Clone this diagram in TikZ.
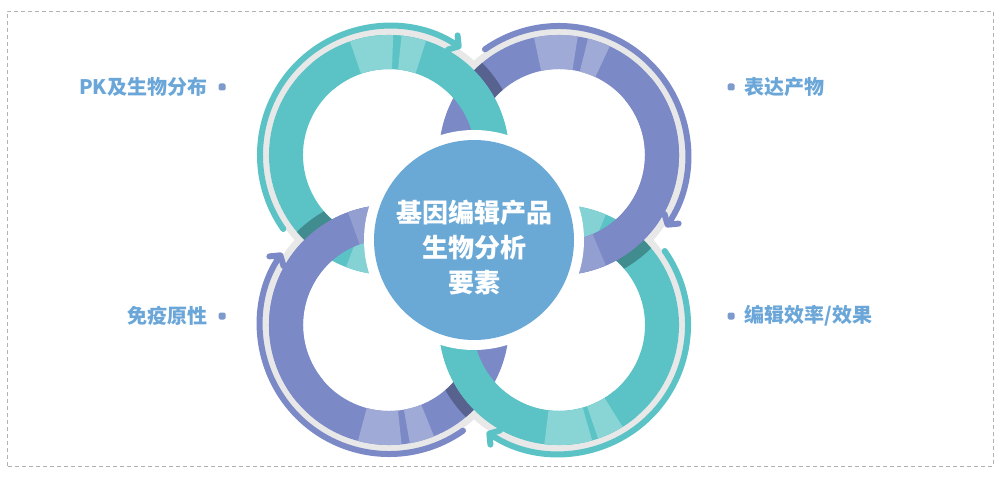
\documentclass[tikz,border=0pt]{standalone}
\usepackage{fontspec}
\newfontfamily\cjk{Noto Sans CJK SC}
\usetikzlibrary{positioning,arrows.meta}

\definecolor{ringteal}{HTML}{5BC3C5}
\definecolor{ringpurple}{HTML}{7B89C7}
\definecolor{hubblue}{HTML}{6AA9D6}
\definecolor{labelblue}{HTML}{6BA6D8}
\definecolor{dotblue}{HTML}{7C9ACB}

\newcommand\rin{86}
\newcommand\rout{120}
% piece of an annulus: start angle, end angle, inner radius, outer radius
\newcommand\bandpart[4]{(#1:#4) arc[start angle=#1,end angle=#2,radius=#4] -- (#2:#3) arc[start angle=#2,end angle=#1,radius=#3] -- cycle}

\tikzset{
  ringframe/.style={shift={(474,237)},rotate=90*#1,shift={(-85,85)}},
  cyclearrow/.style={line width=6pt,line cap=round,-{Straight Barb[length=7pt,width=17pt,round]}},
  lbl/.style={text=labelblue,inner sep=0pt,font=\cjk\bfseries\fontsize{20}{24}\selectfont},
  dot/.style={fill=dotblue,rounded corners=1.5pt,minimum size=7pt,inner sep=0pt},
  halo/.style={circle,fill=white,minimum size=220pt,inner sep=0pt},
  hub/.style={circle,fill=hubblue,minimum size=200pt,inner sep=0pt},
  hubtext/.style={text=white,align=center,font=\cjk\bfseries\fontsize{26}{35}\selectfont}
}

\begin{document}
\begin{tikzpicture}[x=1pt,y=1pt]
  \useasboundingbox (0,0) rectangle (1000,477);
  \draw[black!30,line width=0.8pt,dash pattern=on 4pt off 3pt] (7,11) rectangle (993,466);

  % soft shadow and arrows round the outside
  \foreach \k/\col in {0/ringteal,1/ringpurple,2/ringteal,3/ringpurple}{
    \begin{scope}[ringframe=\k]
      \fill[black!9] \bandpart{45}{225}{\rout}{127};
      \draw[\col,cyclearrow] (215:129) arc[start angle=215,end angle=56,radius=129];
    \end{scope}
  }

  % whole rings and tails first (tails pass under the neighbour)
  \foreach \k/\col/\sa/\sb/\sc/\sd/\ea/\eb in {0/ringteal/88/109/72/84/249/275,1/ringpurple/165/186/190/202/-10/20,2/ringteal/83/106/109/122/247/275,3/ringpurple/171/192/155/166/-10/23}{
    \begin{scope}[ringframe=\k]
      \fill[\col] \bandpart{-10}{290}{\rin}{\rout};
      \ifnum\sa>130
        \fill[\col!72!white] \bandpart{\sa}{\sb}{\rin}{\rout};
        \fill[\col!72!white] \bandpart{\sc}{\sd}{\rin}{\rout};
      \fi
      \ifnum\ea>130
        \fill[\col!75!white] \bandpart{\ea}{\eb}{\rin}{\rout};
      \fi
    \end{scope}
  }

  % heads, with their shadow on the ring below
  \foreach \k/\col/\sa/\sb/\sc/\sd/\ea/\eb in {0/ringteal/88/109/72/84/249/275,1/ringpurple/165/186/190/202/-10/20,2/ringteal/83/106/109/122/247/275,3/ringpurple/171/192/155/166/-10/23}{
    \begin{scope}[ringframe=\k]
      \begin{scope}[even odd rule]
        \clip (170,0) circle (\rout) (170,0) circle (\rin);
        \fill[black,opacity=.28] \bandpart{-10}{130}{\rout}{131};
      \end{scope}
      \fill[\col] \bandpart{-10}{130}{\rin}{\rout};
      \ifnum\sa<130
        \fill[\col!72!white] \bandpart{\sa}{\sb}{\rin}{\rout};
        \fill[\col!72!white] \bandpart{\sc}{\sd}{\rin}{\rout};
      \fi
      \ifnum\ea<130
        \fill[\col!82!white] \bandpart{\ea}{\eb}{\rin}{\rout};
      \fi
    \end{scope}
  }

  \node[halo] (halo) at (474,237) {};
  \node[hub] (hub) at (halo) {};
  \node[hubtext] (title) at ([yshift=-8pt]hub.center) {基因编辑产品\\生物分析\\要素};

  \node[dot] (d1) at (222,390) {};
  \node[lbl,left=11pt of d1] (pk) {PK及生物分布};
  \node[dot] (d2) at (731,390) {};
  \node[lbl,right=10pt of d2] (expr) {表达产物};
  \node[dot] (d3) at (222,161) {};
  \node[lbl,left=11pt of d3] (immu) {免疫原性};
  \node[dot] (d4) at (731,161) {};
  \node[lbl,right=10pt of d4] (eff) {编辑效率/效果};
\end{tikzpicture}
\end{document}
